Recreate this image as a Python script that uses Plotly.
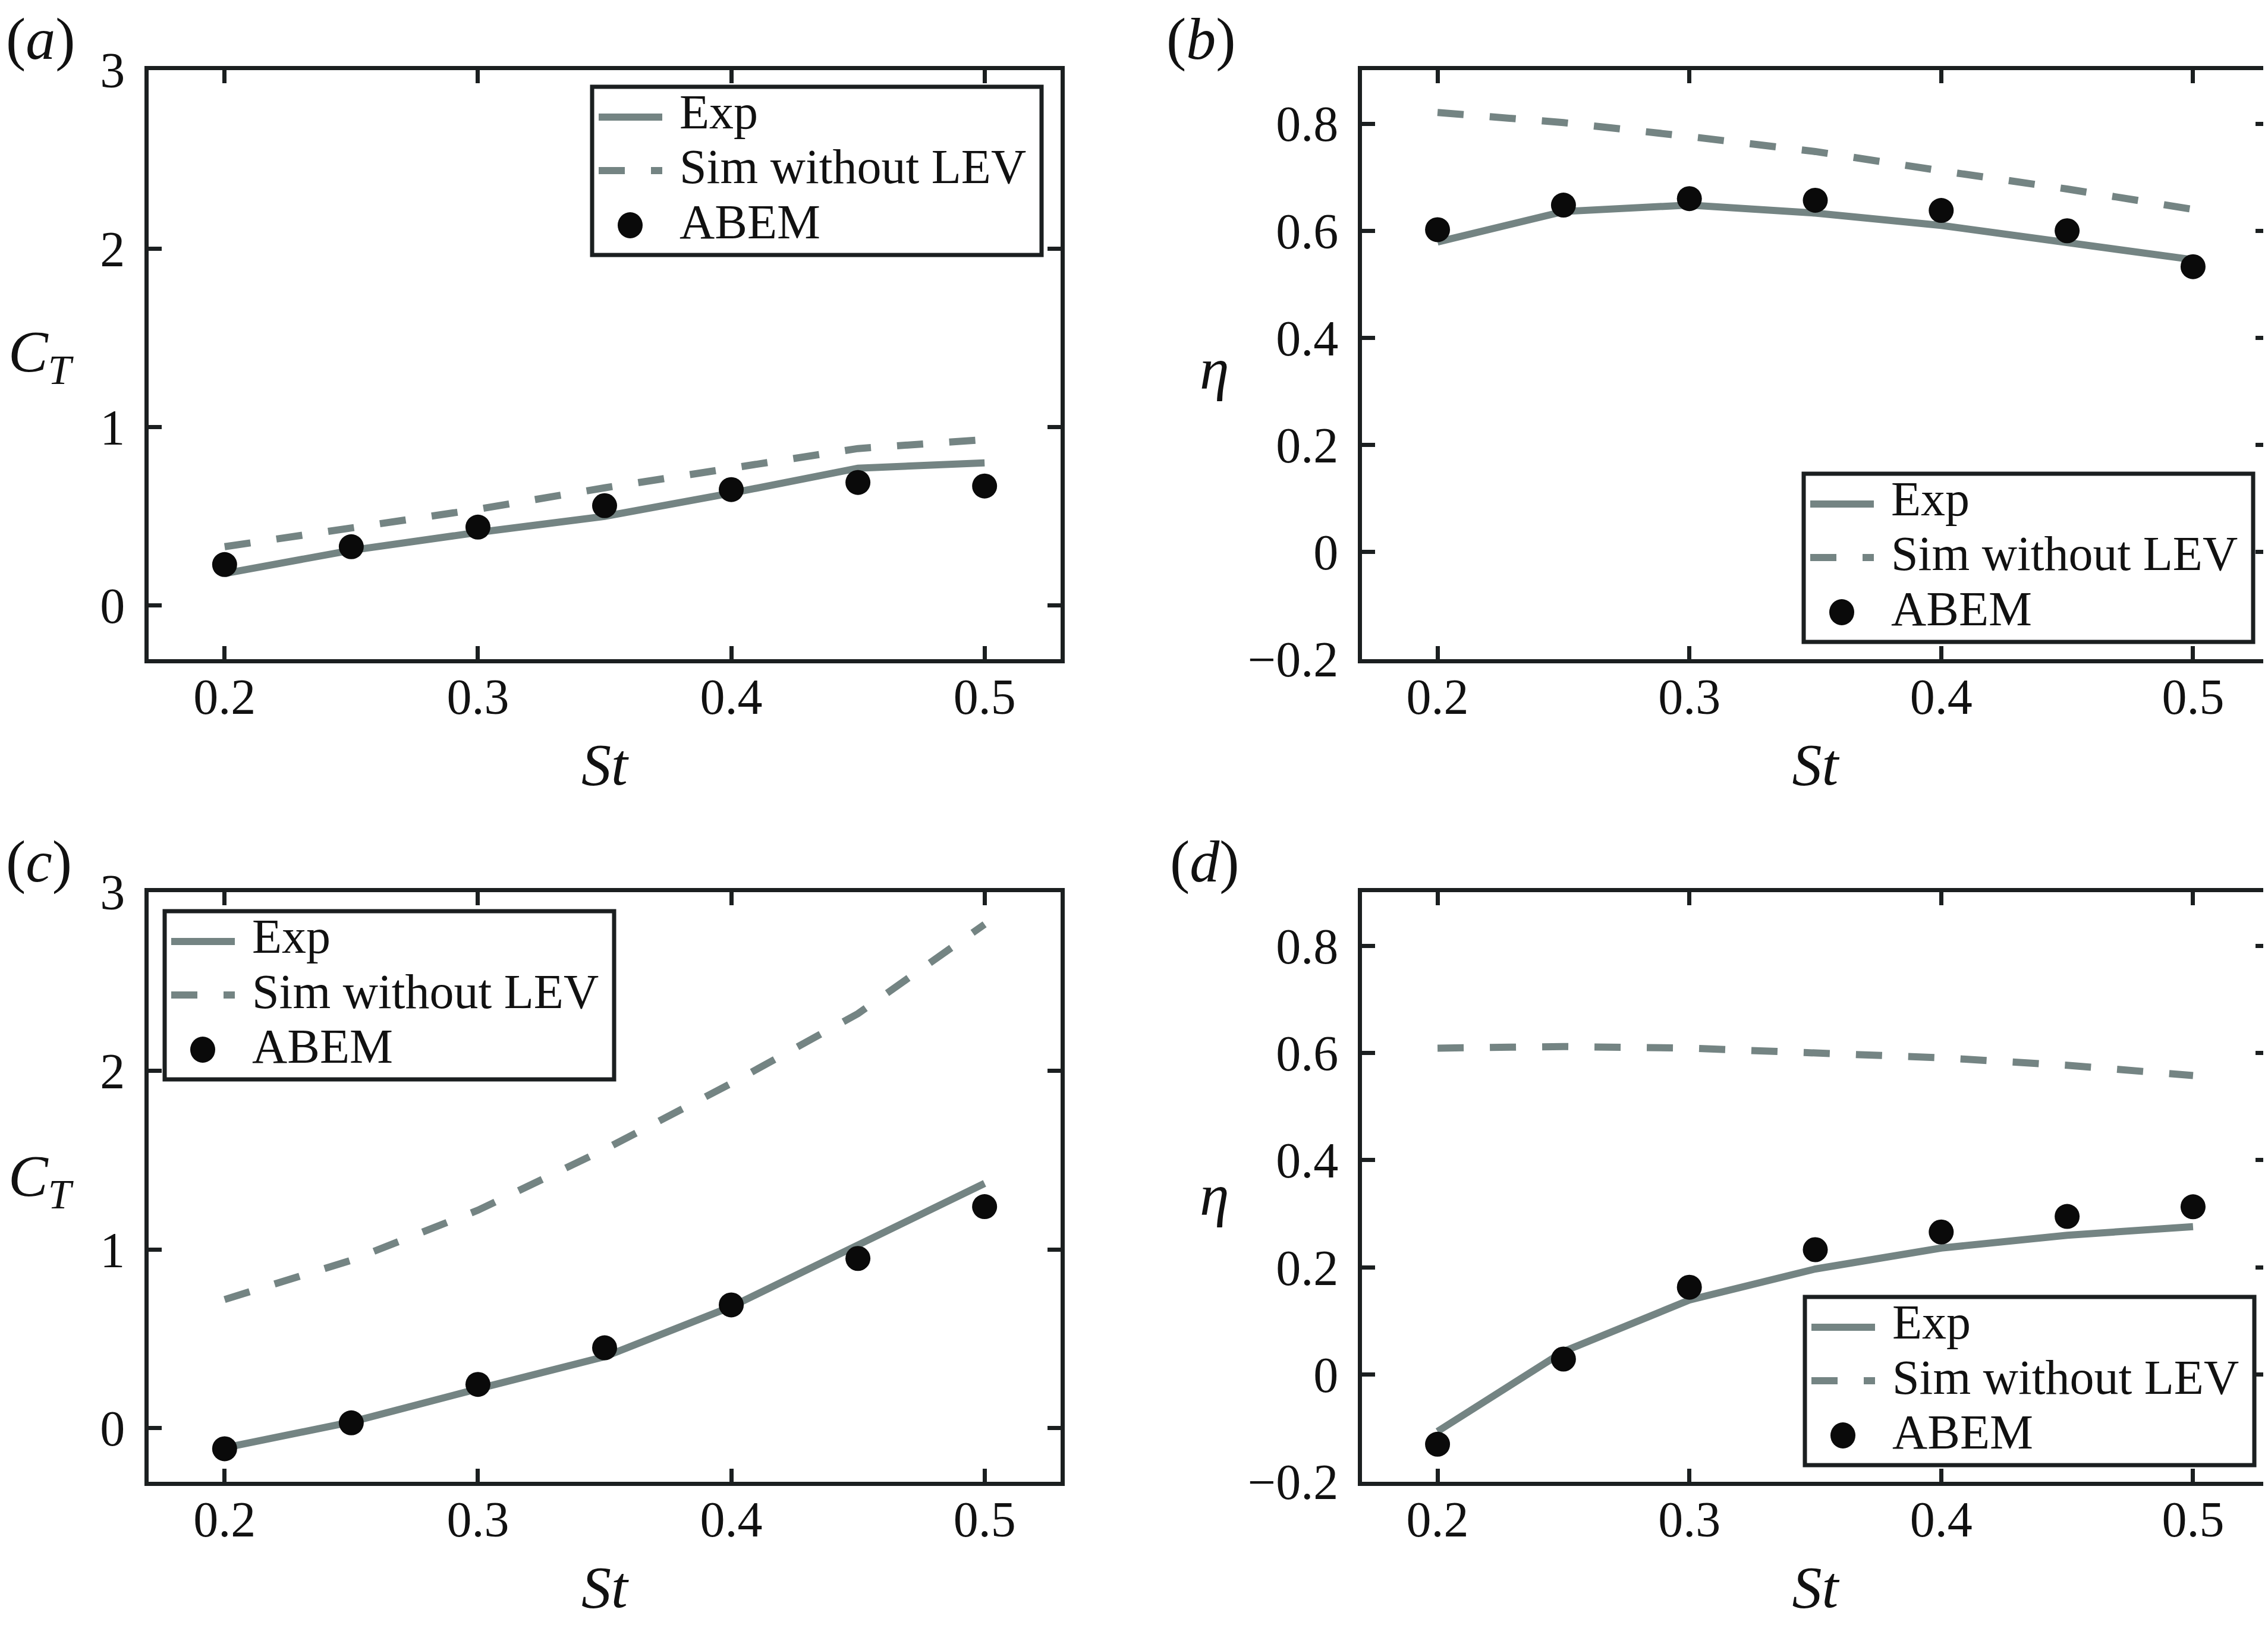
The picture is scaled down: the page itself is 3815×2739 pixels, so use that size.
import plotly.graph_objects as go

# ---------------- data ----------------
st = [0.2, 0.25, 0.3, 0.35, 0.4, 0.45, 0.5]

# (a) C_T
a_exp = [0.18, 0.31, 0.41, 0.50, 0.63, 0.77, 0.80]
a_sim = [0.33, 0.43, 0.54, 0.66, 0.77, 0.88, 0.93]
a_abem = [0.23, 0.33, 0.44, 0.56, 0.65, 0.69, 0.67]

# (b) eta
b_exp = [0.579, 0.636, 0.648, 0.633, 0.610, 0.579, 0.546]
b_sim = [0.821, 0.802, 0.776, 0.748, 0.712, 0.678, 0.640]
b_abem = [0.602, 0.648, 0.660, 0.657, 0.638, 0.600, 0.533]

# (c) C_T
c_exp = [-0.11, 0.035, 0.22, 0.40, 0.68, 1.02, 1.37]
c_sim = [0.72, 0.94, 1.22, 1.56, 1.93, 2.32, 2.82]
c_abem = [-0.115, 0.03, 0.245, 0.45, 0.69, 0.95, 1.24]

# (d) eta
d_exp = [-0.106, 0.043, 0.139, 0.197, 0.236, 0.260, 0.276]
d_sim = [0.609, 0.612, 0.609, 0.600, 0.591, 0.577, 0.558]
d_abem = [-0.13, 0.029, 0.163, 0.233, 0.266, 0.295, 0.313]

x_ticks = [0.2, 0.3, 0.4, 0.5]
x_ticktext = ["0.2", "0.3", "0.4", "0.5"]
ct_ticks = [0, 1, 2, 3]
ct_ticktext = ["0", "1", "2", "3"]
eta_ticks = [-0.2, 0, 0.2, 0.4, 0.6, 0.8]
eta_ticktext = ["\u22120.2", "0", "0.2", "0.4", "0.6", "0.8"]

series_names = ["Exp", "Sim without LEV", "ABEM"]
panel_labels = ["(<i>a</i>)", "(<i>b</i>)", "(<i>c</i>)", "(<i>d</i>)"]

# ---------------- styling ----------------
W, H = 3815, 2739
FONT = "Liberation Serif, Times New Roman, Times, serif"
GREY = "#748483"
DARK = "#1b1f20"
TXT = "#111111"
LW = 12
DASH = "44px,44px"


def px_x(p):
    return p / W


def px_y(p):
    return 1 - p / H


dom_x_left = [px_x(242), px_x(1776)]
dom_x_right = [px_x(2283), px_x(3808)]
dom_y_top = [px_y(1101), px_y(110)]
dom_y_bot = [px_y(2485), px_y(1493)]

fig = go.Figure()

panels = [
    ("x", "y", a_exp, a_sim, a_abem),
    ("x2", "y2", b_exp, b_sim, b_abem),
    ("x3", "y3", c_exp, c_sim, c_abem),
    ("x4", "y4", d_exp, d_sim, d_abem),
]

for xa, ya, e, s, ab in panels:
    fig.add_trace(go.Scatter(x=st, y=e, mode="lines", name=series_names[0],
                             line=dict(color=GREY, width=LW),
                             xaxis=xa, yaxis=ya, showlegend=False))
    fig.add_trace(go.Scatter(x=st, y=s, mode="lines", name=series_names[1],
                             line=dict(color=GREY, width=LW, dash=DASH),
                             xaxis=xa, yaxis=ya, showlegend=False))
    fig.add_trace(go.Scatter(x=st, y=ab, mode="markers", name=series_names[2],
                             marker=dict(color="#0a0a0a", size=42),
                             xaxis=xa, yaxis=ya, showlegend=False))

common_axis = dict(
    showline=True, linecolor=DARK, linewidth=7, mirror="ticks",
    ticks="inside", ticklen=22, tickwidth=7, tickcolor=DARK,
    showgrid=False, zeroline=False, automargin=False,
    tickfont=dict(family=FONT, size=84, color=TXT),
)

xcommon = dict(common_axis, range=[0.17, 0.53], tickvals=x_ticks, ticktext=x_ticktext,
               ticklabelstandoff=-16,
               title=dict(text="<i>St</i>", font=dict(family=FONT, size=100, color=TXT),
                          standoff=35))
ct_axis = dict(common_axis, range=[-0.3, 3.0], tickvals=ct_ticks, ticktext=ct_ticktext,
               ticklabelstandoff=16)
eta_axis = dict(common_axis, range=[-0.2, 0.9], tickvals=eta_ticks, ticktext=eta_ticktext,
                ticklabelstandoff=16)

fig.update_layout(
    width=W, height=H,
    margin=dict(l=0, r=0, t=0, b=0, autoexpand=False),
    paper_bgcolor="white", plot_bgcolor="white",
    showlegend=False,
    xaxis=dict(xcommon, domain=dom_x_left, anchor="y"),
    yaxis=dict(ct_axis, domain=dom_y_top, anchor="x"),
    xaxis2=dict(xcommon, domain=dom_x_right, anchor="y2"),
    yaxis2=dict(eta_axis, domain=dom_y_top, anchor="x2"),
    xaxis3=dict(xcommon, domain=dom_x_left, anchor="y3"),
    yaxis3=dict(ct_axis, domain=dom_y_bot, anchor="x3"),
    xaxis4=dict(xcommon, domain=dom_x_right, anchor="y4"),
    yaxis4=dict(eta_axis, domain=dom_y_bot, anchor="x4"),
)

# y-axis titles (horizontal, as in the reference)
ytitles = [("<i>C</i><sub><i>T</i></sub>", 62, 590),
           ("<i>\u03b7</i>", 2035, 612),
           ("<i>C</i><sub><i>T</i></sub>", 62, 1977),
           ("<i>\u03b7</i>", 2035, 2002)]
for txt, xp, yp in ytitles:
    fig.add_annotation(text=txt, x=px_x(xp), y=px_y(yp), xref="paper", yref="paper",
                       showarrow=False, xanchor="center", yanchor="middle",
                       font=dict(family=FONT, size=100, color=TXT))

# panel labels: (x px, y px, vertical anchor)
plabel_pos = [(0, 0, "top"), (1952, 0, "top"), (0, 1441, "middle"), (1958, 1441, "middle")]
for txt, (xp, yp, ya) in zip(panel_labels, plabel_pos):
    fig.add_annotation(text=txt, x=px_x(xp), y=px_y(yp), xref="paper", yref="paper",
                       showarrow=False, xanchor="left", yanchor=ya,
                       font=dict(family=FONT, size=100, color=TXT))

# ---------------- legends (boxed, drawn in paper space) ----------------
LEG_W, LEG_H = 756, 283
legend_corners = [(988, 138), (3026, 789), (269, 1525), (3028, 2174)]


def add_legend(left, top):
    fig.add_shape(type="rect", xref="paper", yref="paper", layer="above",
                  x0=px_x(left), x1=px_x(left + LEG_W),
                  y0=px_y(top), y1=px_y(top + LEG_H),
                  line=dict(color=DARK, width=7), fillcolor="white")
    # Exp sample (solid)
    fig.add_shape(type="line", xref="paper", yref="paper", layer="above",
                  x0=px_x(left + 11), x1=px_x(left + 118),
                  y0=px_y(top + 51), y1=px_y(top + 51),
                  line=dict(color=GREY, width=LW))
    # Sim sample (dashed)
    fig.add_shape(type="line", xref="paper", yref="paper", layer="above",
                  x0=px_x(left + 11), x1=px_x(left + 118),
                  y0=px_y(top + 141), y1=px_y(top + 141),
                  line=dict(color=GREY, width=LW, dash=DASH))
    # ABEM sample (filled circle)
    cx, cy, r = left + 64, top + 233, 21
    fig.add_shape(type="circle", xref="paper", yref="paper", layer="above",
                  x0=px_x(cx - r), x1=px_x(cx + r),
                  y0=px_y(cy - r - 1), y1=px_y(cy + r + 1),
                  line=dict(color="#0a0a0a", width=0), fillcolor="#0a0a0a")
    for name, dy in zip(series_names, [42, 135, 227]):
        fig.add_annotation(text=name, x=px_x(left + 145), y=px_y(top + dy),
                           xref="paper", yref="paper", showarrow=False,
                           xanchor="left", yanchor="middle",
                           font=dict(family=FONT, size=82, color=TXT))


for lx, ly in legend_corners:
    add_legend(lx, ly)

fig.write_html("out.html")
